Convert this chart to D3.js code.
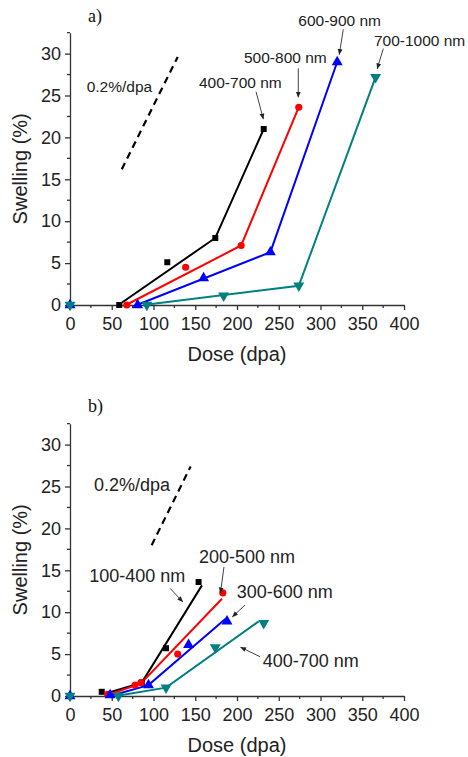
<!DOCTYPE html>
<html>
<head>
<meta charset="utf-8">
<script src="https://cdn.jsdelivr.net/npm/d3@7"></script>
<style>
  html, body { margin: 0; padding: 0; background: #fff; }
  svg { display: block; }
  text { font-family: "Liberation Sans", Arial, sans-serif; fill: #222; }
</style>
</head>
<body>
<script>
// ---- axes ----
const doseTicks = [0, 50, 100, 150, 200, 250, 300, 350, 400];
const doseMinorTicks = [25, 75, 125, 175, 225, 275, 325, 375];
const swellTicks = [0, 5, 10, 15, 20, 25, 30];
const swellMinorTicks = [2.5, 7.5, 12.5, 17.5, 22.5, 27.5, 32.5];
const doseDomain = [0, 400];
const swellDomain = [0, 32.5];

// ---- panel a: measured points [dose, swelling] ----
const seriesA = ["400-700 nm", "500-800 nm", "600-900 nm", "700-1000 nm"];
const a400Pts = [[59, 0], [116.5, 5.1], [174, 8.0], [232, 21.0]];
const a500Pts = [[68, 0], [138.5, 4.5], [205, 7.1], [274, 23.6]];
const a600Pts = [[0, 0], [81, 0], [160, 3.2], [240, 6.3], [320, 29.0]];
const a700Pts = [[0, 0], [92, 0], [184, 1.1], [274, 2.3], [366, 27.2]];
// panel a: bilinear fits
const a400Fit = [[58, 0], [174, 8.0], [232, 21.0]];
const a500Fit = [[67, 0], [205, 7.1], [274, 23.6]];
const a600Fit = [[80, 0], [240, 6.3], [320, 29.0]];
const a700Fit = [[88, 0], [274, 2.3], [366, 27.2]];
// panel a: 0.2 %/dpa reference slope
const aSlope = [[62, 16.2], [129, 29.6]];

// ---- panel b ----
const seriesB = ["100-400 nm", "200-500 nm", "300-600 nm", "400-700 nm"];
const b100Pts = [[38, 0.5], [86, 1.6], [115, 5.7], [154, 13.6]];
const b200Pts = [[45, 0.2], [78, 1.3], [85, 1.6], [129, 5.0], [183, 12.3]];
const b300Pts = [[0, 0], [48, 0.1], [94, 1.3], [142, 6.1], [188, 8.9]];
const b400Pts = [[0, 0], [58, 0], [115, 1.0], [174, 5.8], [232, 8.7]];
const b100Fit = [[43, 0.3], [86, 1.6], [158, 13.2]];
const b200Fit = [[45, 0.1], [85, 1.5], [182, 11.6]];
const b300Fit = [[48, 0], [94, 1.3], [186, 9.2]];
const b400Fit = [[55, 0], [115, 1.0], [226, 8.9]];
const bSlope = [[97.8, 18.0], [144.5, 27.4]];

const seriesColors = ["#000000", "#ff0000", "#0000ff", "#008080"];
const seriesSymbols = [d3.symbolSquare, d3.symbolCircle, d3.symbolTriangle, "down"];

// label anchors and arrow ends, in data units
const aLabels = [
  { t: "0.2%/dpa", at: [20, 25.45] },
  { t: seriesA[0], at: [154.5, 25.9], from: [222.8, 25.45], to: [231.5, 22.2] },
  { t: seriesA[1], at: [208.4, 28.85], from: [273.4, 28.25], to: [273.4, 24.8] },
  { t: seriesA[2], at: [273.4, 33.3], from: [327.3, 32.9], to: [322.5, 29.9] },
  { t: seriesA[3], at: [364, 30.9], from: [375.2, 30.6], to: [368, 28.2] }
];
const bLabels = [
  { t: "0.2%/dpa", at: [28.7, 24.5] },
  { t: seriesB[0], at: [23.1, 13.6], from: [119.8, 12.85], to: [135, 11.25] },
  { t: seriesB[1], at: [154.5, 15.9], from: [184.4, 15.4], to: [180.2, 12.3] },
  { t: seriesB[2], at: [199.6, 11.66], from: [209.6, 10.86], to: [194.6, 9.46] },
  { t: seriesB[3], at: [230.8, 3.42], from: [227.5, 4.69], to: [204.4, 5.81] }
];

const W = 468, H = 757;
const svg = d3.select("body").append("svg").attr("width", W).attr("height", H);

const defs = svg.append("defs");
defs.append("marker")
  .attr("id", "ah").attr("viewBox", "0 0 10 10")
  .attr("refX", 9).attr("refY", 5)
  .attr("markerWidth", 6).attr("markerHeight", 6)
  .attr("markerUnits", "userSpaceOnUse")
  .attr("orient", "auto")
  .append("path").attr("d", "M0,1 L10,5 L0,9 Z").attr("fill", "#222");

const downTri = {
  draw(ctx, size) {
    const s = Math.sqrt(size / (Math.sqrt(3) / 4 * 1)) ;
    const h = s * Math.sqrt(3) / 2;
    ctx.moveTo(-s / 2, -h / 3);
    ctx.lineTo(s / 2, -h / 3);
    ctx.lineTo(0, 2 * h / 3);
    ctx.closePath();
  }
};
const upTri = {
  draw(ctx, size) {
    const s = Math.sqrt(size / (Math.sqrt(3) / 4));
    const h = s * Math.sqrt(3) / 2;
    ctx.moveTo(-s / 2, h / 3);
    ctx.lineTo(s / 2, h / 3);
    ctx.lineTo(0, -2 * h / 3);
    ctx.closePath();
  }
};

function drawPanel(opt) {
  const x = d3.scaleLinear().domain(doseDomain).range([70, 404]);
  const y = d3.scaleLinear().domain(swellDomain).range([opt.y0, opt.y0 - 32.5 * 8.38]);
  const g = svg.append("g");

  // panel letter
  g.append("text").attr("x", 88).attr("y", opt.letterY)
    .style("font-family", "'Liberation Serif', 'Times New Roman', serif")
    .style("font-size", "18px").style("fill", "#111")
    .text(opt.letter);

  // axes
  const axisColor = "#333";
  const xa = g.append("g").attr("transform", `translate(0,${opt.y0})`)
    .call(d3.axisBottom(x).tickValues(doseTicks).tickSize(5).tickPadding(7).tickSizeOuter(0));
  xa.select(".domain").attr("stroke", axisColor).attr("stroke-width", 1.3);
  xa.selectAll(".tick line").attr("stroke", axisColor).attr("stroke-width", 1.3);
  xa.selectAll(".tick text").style("font-size", "18px").style("font-family", "'Liberation Sans', Arial, sans-serif").attr("fill", "#333");
  xa.selectAll(".minor").data(doseMinorTicks).enter().append("line")
    .attr("x1", d => x(d)).attr("x2", d => x(d)).attr("y1", 0).attr("y2", 3)
    .attr("stroke", axisColor).attr("stroke-width", 1.3);

  const ya = g.append("g").attr("transform", "translate(70,0)")
    .call(d3.axisLeft(y).tickValues(swellTicks).tickSize(5).tickPadding(4).tickSizeOuter(0));
  ya.select(".domain").attr("stroke", axisColor).attr("stroke-width", 1.3);
  ya.selectAll(".tick line").attr("stroke", axisColor).attr("stroke-width", 1.3);
  ya.selectAll(".tick text").style("font-size", "18px").style("font-family", "'Liberation Sans', Arial, sans-serif").attr("fill", "#333");
  ya.selectAll(".minor").data(swellMinorTicks).enter().append("line")
    .attr("x1", 0).attr("x2", -3).attr("y1", d => y(d)).attr("y2", d => y(d))
    .attr("stroke", axisColor).attr("stroke-width", 1.3);

  // axis titles
  g.append("text").attr("x", 237).attr("y", opt.y0 + 56)
    .attr("text-anchor", "middle").style("font-size", "20px").attr("fill", "#333")
    .text("Dose (dpa)");
  g.append("text")
    .attr("transform", `translate(27,${(y(0) + y(32.5)) / 2}) rotate(-90)`)
    .attr("text-anchor", "middle").style("font-size", "20px").attr("fill", "#333")
    .text("Swelling (%)");

  // reference slope (dashed)
  const line = d3.line().x(d => x(d[0])).y(d => y(d[1]));
  g.append("path").datum(opt.slope).attr("d", line)
    .attr("fill", "none").attr("stroke", "#000").attr("stroke-width", 2.2)
    .attr("stroke-dasharray", "7,5");

  // fits
  opt.fits.forEach((f, i) => {
    g.append("path").datum(f).attr("d", line)
      .attr("fill", "none").attr("stroke", seriesColors[i]).attr("stroke-width", 2);
  });

  // markers
  const symTypes = [d3.symbolSquare, d3.symbolCircle, upTri, downTri];
  const symSizes = [36, 40, 52, 52];
  opt.pts.forEach((p, i) => {
    g.selectAll(null).data(p).enter().append("path")
      .attr("transform", d => `translate(${x(d[0])},${y(d[1])})`)
      .attr("d", d3.symbol().type(symTypes[i]).size(symSizes[i]))
      .attr("fill", seriesColors[i]);
  });

  // labels and arrows
  opt.labels.forEach(l => {
    g.append("text").attr("x", x(l.at[0])).attr("y", y(l.at[1]))
      .style("font-size", opt.labelSize).attr("fill", "#222").text(l.t);
    if (l.from) {
      g.append("line")
        .attr("x1", x(l.from[0])).attr("y1", y(l.from[1]))
        .attr("x2", x(l.to[0])).attr("y2", y(l.to[1]))
        .attr("stroke", "#444").attr("stroke-width", 1)
        .attr("marker-end", "url(#ah)");
    }
  });
}

drawPanel({
  letter: "a)", letterY: 22, y0: 305,
  pts: [a400Pts, a500Pts, a600Pts, a700Pts],
  fits: [a400Fit, a500Fit, a600Fit, a700Fit],
  slope: aSlope, labels: aLabels, labelSize: "15.5px"
});
drawPanel({
  letter: "b)", letterY: 412, y0: 696,
  pts: [b100Pts, b200Pts, b300Pts, b400Pts],
  fits: [b100Fit, b200Fit, b300Fit, b400Fit],
  slope: bSlope, labels: bLabels, labelSize: "18px"
});
</script>
</body>
</html>
